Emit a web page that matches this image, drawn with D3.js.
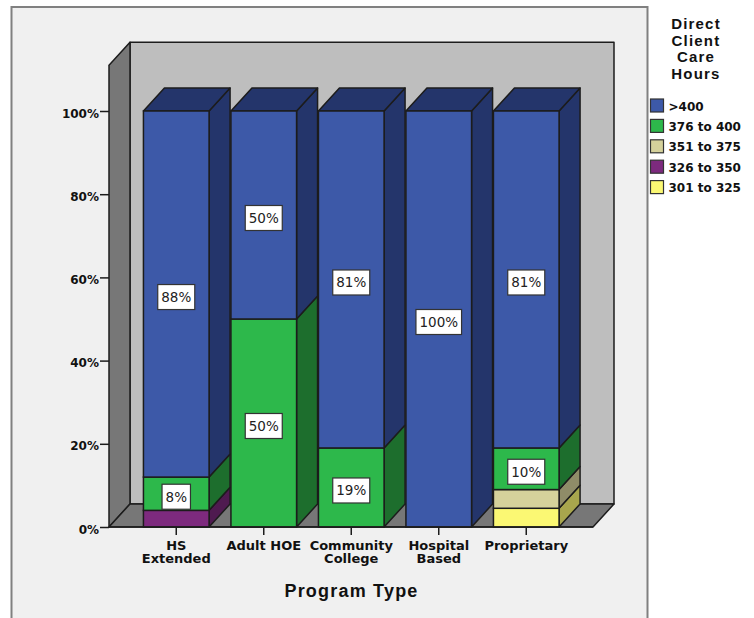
<!DOCTYPE html>
<html>
<head>
<meta charset="utf-8">
<script src="https://cdn.jsdelivr.net/npm/d3@7/dist/d3.min.js"></script>
<style>
  html, body { margin: 0; padding: 0; background: #fff; }
  svg { display: block; }
  text { font-family: "DejaVu Sans", sans-serif; fill: #111; }
</style>
</head>
<body>
<svg id="chart" width="754" height="618"></svg>
<script>
// Share of programs in each direct client care hours band, by program type.
const categories = ["HS\nExtended", "Adult HOE", "Community\nCollege", "Hospital\nBased", "Proprietary"];
const hours301to325 = [0, 0, 0, 0, 4.5];
const hours326to350 = [4, 0, 0, 0, 0];
const hours351to375 = [0, 0, 0, 0, 4.5];
const hours376to400 = [8, 50, 19, 0, 10];
const hoursOver400 = [88, 50, 81, 100, 81];

const seriesNames = ["301 to 325", "326 to 350", "351 to 375", "376 to 400", ">400"];
const seriesValues = [hours301to325, hours326to350, hours351to375, hours376to400, hoursOver400];
const frontColors = ["#fbf873", "#7d2a7e", "#d5d19b", "#2db84b", "#3d59a8"];
const sideColors = ["#a8a64d", "#4f1a50", "#8f8c68", "#1d6e2d", "#24356b"];
const yTicks = [0, 20, 40, 60, 80, 100];
const yWallTop = 111;
const labelMinimum = 8;
const xTitle = "Program Type";
const legendTitle = ["Direct", "Client", "Care", "Hours"];

const svg = d3.select("#chart");
const edge = "#1c1c1c";

const depthX = 21, depthY = -23;
const x = d3.scaleBand().domain(categories).range([132.5, 570]).paddingInner(0.25).paddingOuter(0.125);
const y = d3.scaleLinear().domain([0, 100]).range([527, 111]);
const axisLeftX = 109, axisRightX = 593;

// Chart panel; its lower edge runs past the bottom of the page.
svg.append("rect").attr("x", 11.5).attr("y", 7).attr("width", 636).attr("height", 640)
  .attr("fill", "#f0f0f0").attr("stroke", "#808080").attr("stroke-width", 2);

const poly = (g, pts, fill) => g.append("polygon")
  .attr("points", pts.map(p => p.join(",")).join(" "))
  .attr("fill", fill).attr("stroke", edge).attr("stroke-width", 1.5).attr("stroke-linejoin", "round");

// Box walls and floor behind the bars.
const box = svg.append("g");
const y0 = y(0), yTop = y(yWallTop);
poly(box, [[axisLeftX + depthX, y0 + depthY], [axisRightX + depthX, y0 + depthY],
           [axisRightX + depthX, yTop + depthY], [axisLeftX + depthX, yTop + depthY]], "#bebebe");
poly(box, [[axisLeftX, y0], [axisLeftX + depthX, y0 + depthY],
           [axisLeftX + depthX, yTop + depthY], [axisLeftX, yTop]], "#777");
poly(box, [[axisLeftX, y0], [axisRightX, y0],
           [axisRightX + depthX, y0 + depthY], [axisLeftX + depthX, y0 + depthY]], "#777");

// Stacked segments, bottom band first so each one sits on the one below.
const rows = categories.map((c, i) => {
  const row = { category: c };
  seriesNames.forEach((s, k) => { row[s] = seriesValues[k][i]; });
  return row;
});
const stacked = d3.stack().keys(seriesNames)(rows);

const bars = svg.append("g");
categories.forEach((c, i) => {
  const bx = x(c), w = x.bandwidth();
  const g = bars.append("g");
  stacked.forEach((layer, k) => {
    const [v0, v1] = layer[i];
    if (v1 <= v0) return;
    const yb = y(v0), yt = y(v1);
    poly(g, [[bx + w, yb], [bx + w + depthX, yb + depthY], [bx + w + depthX, yt + depthY], [bx + w, yt]], sideColors[k]);
    if (v1 >= 100) {
      poly(g, [[bx, yt], [bx + w, yt], [bx + w + depthX, yt + depthY], [bx + depthX, yt + depthY]], sideColors[k]);
    }
    g.append("rect").attr("x", bx).attr("y", yt).attr("width", w).attr("height", yb - yt)
      .attr("fill", frontColors[k]).attr("stroke", edge).attr("stroke-width", 1.5);
  });
});

// Percentage labels on the larger segments.
const labels = svg.append("g");
categories.forEach((c, i) => {
  stacked.forEach(layer => {
    const [v0, v1] = layer[i];
    const v = v1 - v0;
    if (v < labelMinimum) return;
    const cx = x(c) + x.bandwidth() / 2;
    const cy = (y(v0) + y(v1)) / 2 + 3;
    const g = labels.append("g").attr("transform", `translate(${cx},${cy})`);
    const str = `${Math.round(v)}%`;
    const t = g.append("text").attr("text-anchor", "middle").attr("dy", "0.36em")
      .attr("font-size", 13.5).style("fill", "#222").text(str);
    const tw = t.node().getComputedTextLength();
    g.insert("rect", "text").attr("x", -tw / 2 - 3.5).attr("y", -12.5)
      .attr("width", tw + 7).attr("height", 25)
      .attr("fill", "#fff").attr("stroke", "#333").attr("stroke-width", 1.2);
  });
});

// Value axis.
const yAxis = svg.append("g").attr("transform", `translate(${axisLeftX},0)`)
  .call(d3.axisLeft(y).tickValues(yTicks).tickFormat(d => d + "%").tickSize(9).tickPadding(1));
yAxis.select(".domain").remove();
yAxis.selectAll("line").attr("stroke", edge).attr("stroke-width", 1.5);
yAxis.selectAll("text").attr("font-size", 12).attr("font-weight", "bold").attr("dy", "0.5em")
  .style("font-family", '"DejaVu Sans", sans-serif').style("fill", "#111");

// Category axis, with labels broken over two lines.
const xAxis = svg.append("g").attr("transform", `translate(0,${y0})`)
  .call(d3.axisBottom(x).tickSize(8).tickFormat(""));
xAxis.select(".domain").attr("d", `M${axisLeftX},0H${axisRightX}`).attr("stroke", edge).attr("stroke-width", 1.5);
xAxis.selectAll("line").attr("stroke", edge).attr("stroke-width", 1.5);
xAxis.selectAll(".tick text").remove();
xAxis.selectAll(".tick").append("text")
  .attr("text-anchor", "middle").attr("font-size", 13).attr("font-weight", "bold")
  .style("fill", "#111")
  .each(function (d) {
    d.split("\n").forEach((line, j) => {
      d3.select(this).append("tspan").attr("x", 0).attr("y", 23 + j * 12.5).text(line);
    });
  });

svg.append("text").attr("x", 351.5).attr("y", 597).attr("text-anchor", "middle")
  .attr("font-size", 18).attr("font-weight", "bold").attr("letter-spacing", 1.2)
  .style("font-family", '"Liberation Sans", sans-serif').text(xTitle);

// Legend, top band listed first.
const legend = svg.append("g");
legend.selectAll("text.head").data(legendTitle).join("text").attr("class", "head")
  .attr("x", 696).attr("y", (d, i) => 29 + i * 16.5).attr("text-anchor", "middle")
  .attr("font-size", 15).attr("font-weight", "bold").attr("letter-spacing", 1.2)
  .style("font-family", '"Liberation Sans", sans-serif').text(d => d);

const legendOrder = d3.range(seriesNames.length).reverse();
const entry = legend.selectAll("g.entry").data(legendOrder).join("g").attr("class", "entry")
  .attr("transform", (d, i) => `translate(650.5,${99 + i * 20.4})`);
entry.append("rect").attr("width", 13).attr("height", 13)
  .attr("fill", d => frontColors[d]).attr("stroke", "#333").attr("stroke-width", 1.2);
entry.append("text").attr("x", 18).attr("y", 11.5).attr("font-size", 12).attr("font-weight", "bold")
  .text(d => seriesNames[d]);
</script>
</body>
</html>
